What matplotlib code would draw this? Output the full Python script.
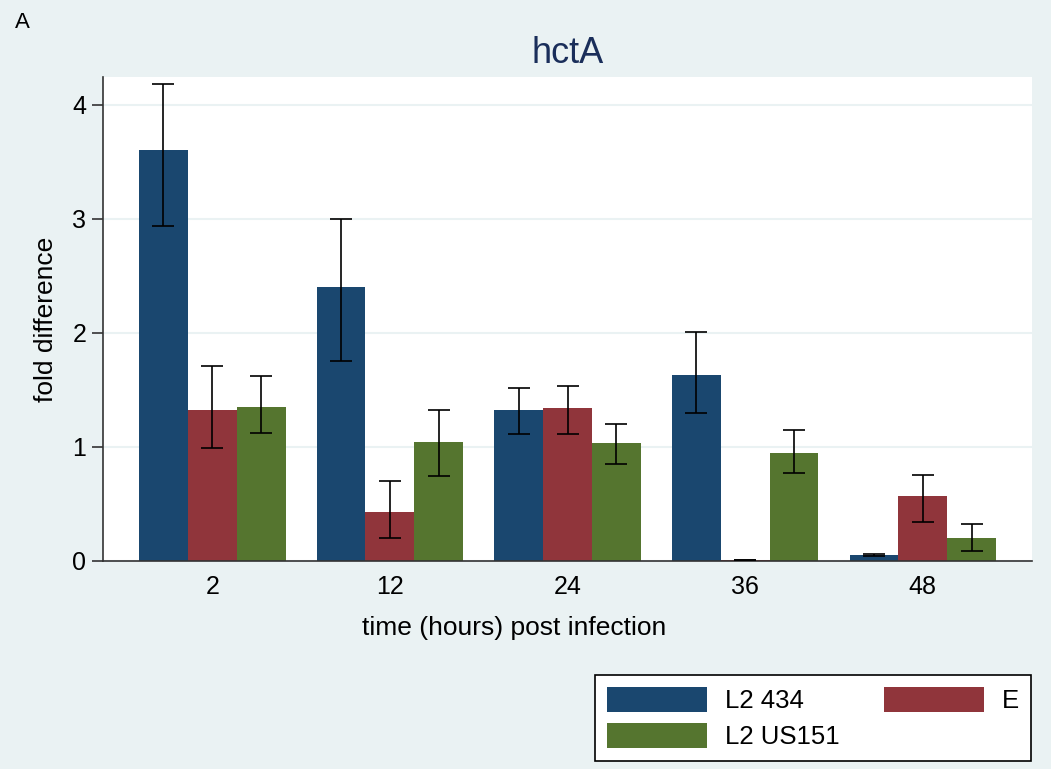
import numpy as np
import matplotlib
matplotlib.use("Agg")
import matplotlib.pyplot as plt
from matplotlib.patches import Patch

plt.rcParams['font.family'] = ['Liberation Sans', 'DejaVu Sans']

# time points (hours post infection)
timepoints = ["2", "12", "24", "36", "48"]
series_names = ["L2 434", "E", "L2 US151"]

# mean fold difference per strain
l2_434 = [3.60, 2.40, 1.32, 1.63, 0.05]
e_strain = [1.32, 0.43, 1.34, 0.01, 0.57]
l2_us151 = [1.35, 1.04, 1.03, 0.95, 0.20]

# error bar limits (low, high)
l2_434_lo = [2.94, 1.75, 1.11, 1.30, 0.04]
l2_434_hi = [4.18, 3.00, 1.52, 2.01, 0.065]
e_lo = [0.99, 0.20, 1.11, 0.01, 0.34]
e_hi = [1.71, 0.70, 1.53, 0.01, 0.755]
l2_us151_lo = [1.12, 0.745, 0.85, 0.77, 0.09]
l2_us151_hi = [1.625, 1.32, 1.20, 1.15, 0.32]

colors = ["#1a476f", "#90353b", "#55752f"]
bg = "#eaf2f3"

fig = plt.figure(figsize=(10.51, 7.69), dpi=100, facecolor=bg)
ax = fig.add_axes([0.098, 0.2705, 0.884, 0.629])
ax.set_facecolor("white")

x = np.arange(len(timepoints))
width = 0.275
means = [l2_434, e_strain, l2_us151]
lows = [l2_434_lo, e_lo, l2_us151_lo]
highs = [l2_434_hi, e_hi, l2_us151_hi]

for i, (m, lo, hi, c) in enumerate(zip(means, lows, highs, colors)):
    pos = x + (i - 1) * width
    ax.bar(pos, m, width=width, color=c, edgecolor="none", zorder=2)
    lo = np.array(lo); hi = np.array(hi)
    ax.errorbar(pos, (lo + hi) / 2, yerr=(hi - lo) / 2, fmt="none",
                ecolor="black", elinewidth=1.2, capsize=8, capthick=1.2, zorder=3)

ax.set_xlim(-0.615, 4.615)
ax.set_ylim(0, 4.24)
ax.set_yticks([0, 1, 2, 3, 4])
ax.set_xticks(x)
ax.set_xticklabels(timepoints)
ax.yaxis.grid(True, color=bg, linewidth=1.5, zorder=0)
ax.set_axisbelow(True)
for s in ["top", "right"]:
    ax.spines[s].set_visible(False)
for s in ["left", "bottom"]:
    ax.spines[s].set_color("#333333")
    ax.spines[s].set_linewidth(1.2)
ax.tick_params(axis="y", labelsize=18, length=8, width=1.2, color="#333333", pad=4)
ax.tick_params(axis="x", labelsize=18, length=0, pad=10)

ax.set_ylabel("fold difference", fontsize=19, labelpad=10)
ax.set_xlabel("time (hours) post infection", fontsize=19)
ax.xaxis.set_label_coords(0.4424, -0.113)
ax.set_title("hctA", fontsize=26, color="#1a2e5a", pad=10)

fig.text(0.014, 0.971, "A", fontsize=16, ha="left", va="center")

handles = [Patch(facecolor=colors[0], label=series_names[0]),
           Patch(facecolor=colors[2], label=series_names[2]),
           Patch(facecolor=colors[1], label=series_names[1])]
leg = fig.legend(handles=handles, ncol=2, mode="expand",
                 bbox_to_anchor=(595 / 1051, 1 - 761 / 769, 436 / 1051, 87 / 769),
                 loc="lower left", fontsize=18.5, handlelength=3.9, handleheight=1.1,
                 frameon=True, fancybox=False, edgecolor="black", facecolor="white",
                 framealpha=1, borderaxespad=0, labelspacing=0.4, handletextpad=0.7,
                 borderpad=0.45)
leg.get_frame().set_linewidth(1.2)

fig.savefig("out.png", dpi=100, facecolor=bg)
